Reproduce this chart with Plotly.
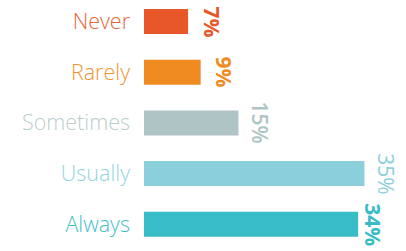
import plotly.graph_objects as go

categories = ["Never", "Rarely", "Sometimes", "Usually", "Always"]
values = [7, 9, 15, 35, 34]
value_labels = ["7%", "9%", "15%", "35%", "34%"]

bar_colors = ["#E8572A", "#F08B22", "#AFC4C4", "#8BCFDB", "#38BCC6"]
label_colors = ["#E8633A", "#F0932F", "#BACDCD", "#95D3DE", "#45C0C9"]
label_weights = [700, 700, 600, 500, 700]
label_gaps = [7, 7, 6, 6, -1]

fig = go.Figure(go.Bar(
    x=values,
    y=categories,
    orientation="h",
    marker=dict(color=bar_colors, line=dict(width=0)),
    cliponaxis=False,
    hoverinfo="skip",
))

for v, cat, lab, col, w, g in zip(values, categories, value_labels, bar_colors, label_weights, label_gaps):
    fig.add_annotation(
        x=v, y=cat, xref="x", yref="y",
        text=lab, showarrow=False, textangle=90,
        xanchor="left", yanchor="middle", xshift=g,
        font=dict(family="Open Sans", size=21, color=col, weight=w),
    )

ticktext = [f'<span style="color:{c}">{t}</span>' for t, c in zip(categories, label_colors)]

fig.update_layout(
    width=406, height=251,
    margin=dict(l=144, r=0, t=1, b=0),
    paper_bgcolor="white", plot_bgcolor="white",
    bargap=0.507,
    showlegend=False,
    xaxis=dict(range=[0, 41.6], visible=False, fixedrange=True, automargin=False),
    yaxis=dict(
        categoryorder="array", categoryarray=categories,
        range=[4.527, -0.404],
        tickvals=categories, ticktext=ticktext, automargin=False,
        showline=False, showgrid=False, zeroline=False, ticks="",
        ticklabelstandoff=13, fixedrange=True,
        tickfont=dict(family="Open Sans", size=21.5, weight=300),
    ),
)

fig.write_html("out.html", config={"displayModeBar": False, "staticPlot": True},
               post_script="document.body.style.margin='0';")
